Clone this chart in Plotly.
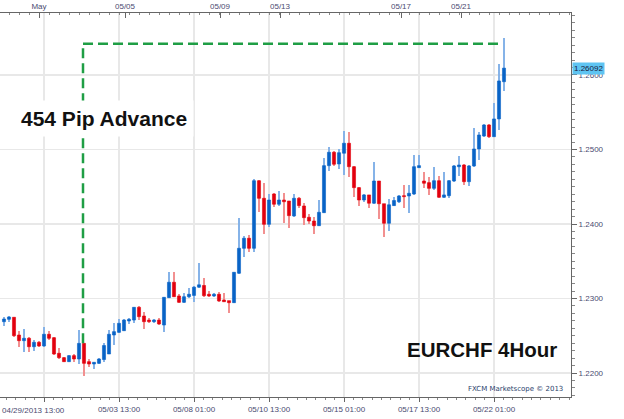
import plotly.graph_objects as go

# EURCHF 4-hour candles (index 0 .. 100)
opens = [1.22689, 1.22721, 1.22748, 1.22510, 1.22434, 1.22466, 1.22353, 1.22412, 1.22363, 1.22520,
         1.22474, 1.22265, 1.22206, 1.22152, 1.22233, 1.22188, 1.22398, 1.22152, 1.22121, 1.22130,
         1.22181, 1.22255, 1.22510, 1.22546, 1.22568, 1.22698, 1.22711, 1.22882, 1.22765, 1.22711,
         1.22689, 1.22711, 1.22644, 1.23011, 1.23218, 1.23034, 1.22949, 1.23024, 1.23041, 1.23152,
         1.23175, 1.23057, 1.23034, 1.23057, 1.22980, 1.22971, 1.22944, 1.23339, 1.23674, 1.23809,
         1.23674, 1.24581, 1.24345, 1.23996, 1.24403, 1.24265, 1.24322, 1.24309, 1.24108, 1.24345,
         1.24242, 1.24090, 1.24040, 1.23977, 1.24152, 1.24783, 1.24963, 1.24806, 1.24950, 1.25084,
         1.24769, 1.24488, 1.24322, 1.24390, 1.24279, 1.24577, 1.24272, 1.24010, 1.24247, 1.24299,
         1.24380, 1.24376, 1.24403, 1.24756, 1.24577, 1.24555, 1.24479, 1.24581, 1.24359, 1.24380,
         1.24577, 1.24769, 1.24792, 1.24568, 1.24779, 1.25007, 1.25181, 1.25329, 1.25172, 1.25410,
         1.25910]
highs = [1.22748, 1.22765, 1.22752, 1.22568, 1.22587, 1.22488, 1.22443, 1.22426, 1.22622, 1.22568,
         1.22480, 1.22332, 1.22215, 1.22242, 1.22251, 1.22577, 1.22407, 1.22184, 1.22152, 1.22201,
         1.22398, 1.22577, 1.22667, 1.22720, 1.22725, 1.22734, 1.22890, 1.22899, 1.22823, 1.22734,
         1.22721, 1.22743, 1.23024, 1.23360, 1.23360, 1.23061, 1.23070, 1.23137, 1.23162, 1.23481,
         1.23271, 1.23101, 1.23070, 1.23084, 1.23070, 1.22973, 1.23360, 1.24077, 1.23844, 1.23853,
         1.24600, 1.24591, 1.24547, 1.24399, 1.24412, 1.24443, 1.24421, 1.24315, 1.24399, 1.24367,
         1.24278, 1.24135, 1.24098, 1.24322, 1.24882, 1.25030, 1.24981, 1.25003, 1.25249, 1.25231,
         1.24772, 1.24501, 1.24399, 1.24392, 1.24829, 1.24580, 1.24275, 1.24336, 1.24359, 1.24390,
         1.24517, 1.24524, 1.24926, 1.24926, 1.24702, 1.24635, 1.24769, 1.24649, 1.24702, 1.24591,
         1.24792, 1.24913, 1.24801, 1.24792, 1.25285, 1.25239, 1.25338, 1.25338, 1.25628, 1.26144,
         1.26493]
lows = [1.22631, 1.22689, 1.22484, 1.22353, 1.22286, 1.22286, 1.22296, 1.22349, 1.22353, 1.22443,
        1.22242, 1.22188, 1.22144, 1.22142, 1.22152, 1.22121, 1.21960, 1.22078, 1.22057, 1.22121,
        1.22144, 1.22251, 1.22376, 1.22532, 1.22564, 1.22658, 1.22675, 1.22711, 1.22587, 1.22675,
        1.22675, 1.22644, 1.22546, 1.23003, 1.23016, 1.22936, 1.22936, 1.23011, 1.22949, 1.23144,
        1.23024, 1.23016, 1.23024, 1.22957, 1.22949, 1.22802, 1.22936, 1.23329, 1.23561, 1.23620,
        1.23620, 1.24165, 1.23862, 1.23956, 1.24233, 1.24247, 1.24010, 1.23943, 1.24099, 1.24211,
        1.23987, 1.24000, 1.23862, 1.23973, 1.24144, 1.24716, 1.24783, 1.24738, 1.24658, 1.24631,
        1.24359, 1.24242, 1.24299, 1.24211, 1.24265, 1.24068, 1.23830, 1.23906, 1.24242, 1.24286,
        1.24215, 1.24152, 1.24390, 1.24748, 1.24479, 1.24390, 1.24457, 1.24355, 1.24345, 1.24345,
        1.24568, 1.24649, 1.24524, 1.24510, 1.24769, 1.24859, 1.25164, 1.25159, 1.25164, 1.25262,
        1.25789]
closes = [1.22725, 1.22752, 1.22501, 1.22434, 1.22466, 1.22353, 1.22412, 1.22363, 1.22520, 1.22466,
          1.22255, 1.22206, 1.22152, 1.22233, 1.22188, 1.22398, 1.22130, 1.22121, 1.22144, 1.22188,
          1.22369, 1.22520, 1.22555, 1.22667, 1.22711, 1.22721, 1.22882, 1.22756, 1.22689, 1.22689,
          1.22711, 1.22658, 1.23016, 1.23218, 1.23024, 1.22949, 1.23024, 1.23057, 1.23152, 1.23184,
          1.23038, 1.23034, 1.23057, 1.22967, 1.22957, 1.22944, 1.23352, 1.23674, 1.23809, 1.23674,
          1.24581, 1.24345, 1.23996, 1.24322, 1.24265, 1.24322, 1.24299, 1.24112, 1.24345, 1.24247,
          1.24085, 1.24040, 1.23977, 1.24157, 1.24783, 1.24963, 1.24802, 1.24957, 1.25084, 1.24769,
          1.24488, 1.24322, 1.24390, 1.24279, 1.24577, 1.24272, 1.24010, 1.24258, 1.24315, 1.24376,
          1.24367, 1.24412, 1.24769, 1.24783, 1.24547, 1.24479, 1.24581, 1.24359, 1.24390, 1.24581,
          1.24779, 1.24792, 1.24568, 1.24779, 1.25007, 1.25195, 1.25329, 1.25172, 1.25410, 1.25920,
          1.26092]

# axis labels
bottom_tick_idx = [8, 23, 38, 53, 68, 83, 98]
bottom_tick_text = ["", "05/03 13:00", "05/08 01:00", "05/10 13:00", "05/15 01:00", "05/17 13:00", "05/22 01:00"]
first_label = "04/29/2013 13:00"
top_tick_idx = [7.0, 24.2, 43.2, 55.2, 79.4, 91.4]
top_tick_text = ["May", "05/05", "05/09", "05/13", "05/17", "05/21"]
price_ticks = [1.22, 1.23, 1.24, 1.25, 1.26]
last_price_text = "1.26092"

# annotation line (454 pip advance)
adv_start_idx = 15.8
adv_end_idx = 99.8
adv_level = 1.2642

UP_BODY, DOWN_BODY = "#0863c6", "#e2000e"
UP_WICK, DOWN_WICK = "#86b3e8", "#f29090"
TXT = "#4a4a70"

x = list(range(len(opens)))
up = [c >= o for o, c in zip(opens, closes)]

fig = go.Figure()
fig.add_trace(go.Bar(
    x=x, y=[h - l for h, l in zip(highs, lows)], base=lows, width=0.3,
    marker=dict(color=[UP_WICK if u else DOWN_WICK for u in up], line=dict(width=0)),
    hoverinfo="skip", showlegend=False))
fig.add_trace(go.Bar(
    x=x, y=[max(abs(c - o), 0.00003) for o, c in zip(opens, closes)],
    base=[min(o, c) for o, c in zip(opens, closes)], width=0.62,
    marker=dict(color=[UP_BODY if u else DOWN_BODY for u in up],
                line=dict(width=0.6, color=[UP_BODY if u else DOWN_BODY for u in up])),
    hoverinfo="skip", showlegend=False))
# invisible trace for top axis
fig.add_trace(go.Scatter(x=[x[0]], y=[closes[0]], xaxis="x2", mode="markers",
                         marker=dict(opacity=0), hoverinfo="skip", showlegend=False))

green = dict(color="#1f9e45", width=2.5, dash="10px,5px")
fig.add_shape(type="line", x0=adv_start_idx, x1=adv_start_idx, y0=opens[16], y1=adv_level,
              xref="x", yref="y", line=green)
fig.add_shape(type="line", x0=adv_start_idx, x1=adv_end_idx, y0=adv_level, y1=adv_level,
              xref="x", yref="y", line=green)

fig.add_annotation(text="<b>454 Pip Advance</b>", xref="paper", yref="paper", x=0.182, y=0.724,
                   xanchor="center", yanchor="middle",
                   showarrow=False, font=dict(family="Liberation Sans", size=21, color="#111"),
                   bgcolor="white", borderpad=6)
fig.add_annotation(text="<b>EURCHF 4Hour</b>", xref="paper", yref="paper", x=0.844, y=0.125,
                   xanchor="center", yanchor="middle",
                   showarrow=False, font=dict(family="Liberation Sans", size=20.5, color="#111"))
fig.add_annotation(text="FXCM Marketscope © 2013", xref="paper", yref="paper", x=0.99, y=0.021,
                   xanchor="right", yanchor="middle", showarrow=False,
                   font=dict(family="DejaVu Sans", size=7, color="#2b3f6c"))
fig.add_annotation(text=first_label, xref="paper", yref="paper", x=0, y=0, xanchor="left",
                   yanchor="middle", yshift=-13, showarrow=False,
                   font=dict(family="Liberation Sans", size=8, color=TXT))
fig.add_annotation(text=last_price_text, xref="paper", yref="y", x=1, y=closes[-1], xanchor="left",
                   yanchor="middle", xshift=1, showarrow=False, bgcolor="#5ec4f2", borderpad=1,
                   font=dict(family="Liberation Sans", size=8, color="#1a1a3a"))

fig.update_layout(
    template="none",
    width=624, height=419,
    margin=dict(l=0, r=53, t=13, b=22, autoexpand=False),
    paper_bgcolor="white", plot_bgcolor="white",
    barmode="overlay", bargap=0,
    font=dict(family="Liberation Sans", size=8, color=TXT),
    xaxis=dict(range=[-0.8, 113.4], tickvals=bottom_tick_idx, ticktext=bottom_tick_text,
               automargin=False,
               showgrid=True, gridcolor="#e8e8e8", gridwidth=1.5, zeroline=False,
               showline=True, linecolor="#666", linewidth=1, ticks="outside", ticklen=4,
               tickcolor="#666", minor=dict(dtick=1.875, tick0=8, ticklen=2, tickcolor="#888", ticks="outside"),
               tickfont=dict(size=8, color=TXT)),
    xaxis2=dict(range=[-0.8, 113.4], overlaying="x", side="top", tickvals=top_tick_idx,
                ticktext=top_tick_text, showgrid=False, zeroline=False, showline=True,
                automargin=False,
                linecolor="#666", linewidth=1, ticks="inside", ticklen=5, tickcolor="#666",
                minor=dict(dtick=2, tick0=1, ticklen=2, tickcolor="#888", ticks="inside"),
                tickfont=dict(size=8, color=TXT)),
    yaxis=dict(range=[1.21678, 1.26832], side="right", tickvals=price_ticks, tickformat=".4f",
               automargin=False,
               showgrid=True, gridcolor="#e8e8e8", gridwidth=1.5, zeroline=False,
               showline=True, linecolor="#666", linewidth=1, ticks="outside", ticklen=5,
               tickcolor="#666", minor=dict(dtick=0.001, ticklen=3, tickcolor="#888", ticks="outside"),
               tickfont=dict(size=8, color=TXT)),
)

fig.write_html("out.html", config={"displayModeBar": False, "staticPlot": True},
               post_script="document.body.style.margin='0';document.body.style.overflow='hidden';")
